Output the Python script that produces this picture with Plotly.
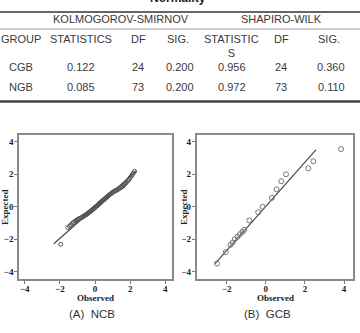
import plotly.graph_objects as go

W, H = 360, 333

# ---- table data ----
title_text = "Normality"
test_names = ["KOLMOGOROV-SMIRNOV", "SHAPIRO-WILK"]
col_headers = ["GROUP", "STATISTICS", "DF", "SIG.", "STATISTIC<br>S", "DF", "SIG."]
groups = ["CGB", "NGB"]
ks_stat = ["0.122", "0.085"]
ks_df = ["24", "73"]
ks_sig = ["0.200", "0.200"]
sw_stat = ["0.956", "0.972"]
sw_df = ["24", "73"]
sw_sig = ["0.360", "0.110"]

# ---- Q-Q plot data ----
obs_A = [-1.95, -1.55, -1.45, -1.38, -1.30, -1.22, -1.15, -1.08, -1.02, -0.95,
         -0.88, -0.82, -0.76, -0.70, -0.65, -0.60, -0.55, -0.50, -0.46, -0.42,
         -0.38, -0.34, -0.30, -0.26, -0.22, -0.18, -0.14, -0.10, -0.06, -0.02,
         0.02, 0.06, 0.10, 0.14, 0.18, 0.22, 0.26, 0.30, 0.34, 0.38,
         0.42, 0.46, 0.50, 0.55, 0.60, 0.65, 0.70, 0.75, 0.80, 0.86,
         0.92, 0.98, 1.04, 1.10, 1.16, 1.22, 1.28, 1.34, 1.40, 1.46,
         1.52, 1.58, 1.64, 1.70, 1.76, 1.82, 1.88, 1.94, 2.00, 2.06,
         2.12, 2.18, 2.25]
exp_A = [-2.31, -1.28, -1.20, -1.12, -1.02, -0.98, -0.90, -0.85, -0.80, -0.76,
         -0.72, -0.70, -0.66, -0.62, -0.58, -0.55, -0.51, -0.48, -0.45, -0.42,
         -0.38, -0.35, -0.31, -0.28, -0.24, -0.21, -0.17, -0.14, -0.10, -0.06,
         -0.02, 0.02, 0.05, 0.09, 0.13, 0.17, 0.21, 0.25, 0.29, 0.32,
         0.36, 0.40, 0.44, 0.48, 0.53, 0.58, 0.62, 0.67, 0.72, 0.77,
         0.82, 0.87, 0.91, 0.96, 0.99, 1.02, 1.05, 1.10, 1.14, 1.18,
         1.22, 1.27, 1.33, 1.40, 1.47, 1.55, 1.62, 1.70, 1.80, 1.88,
         1.98, 2.08, 2.18]
fit_x_A = [-2.35, 2.35]
fit_y_A = [-2.28, 2.20]

obs_B = [-2.50, -2.05, -1.81, -1.70, -1.59, -1.45, -1.33, -1.20, -1.11, -0.85,
         -0.39, -0.17, 0.31, 0.55, 0.79, 1.03, 2.17, 2.43, 3.85]
exp_B = [-3.50, -2.80, -2.35, -2.20, -2.00, -1.85, -1.69, -1.55, -1.42, -0.84,
         -0.34, 0.00, 0.55, 1.07, 1.57, 2.00, 2.37, 2.80, 3.55]
fit_x_B = [-2.60, 2.56]
fit_y_B = [-3.50, 3.50]

tick_vals = [-4, -2, 0, 2, 4]

def py(p):
    return 1 - p / H

def px(p):
    return p / W

fig = go.Figure()

mkA = dict(symbol="circle-open", size=4, color="#555", line=dict(width=1))
mkB = dict(symbol="circle-open", size=5, color="#777", line=dict(width=1))
fig.add_trace(go.Scatter(x=fit_x_A, y=fit_y_A, mode="lines",
                         line=dict(color="#4a4a4a", width=1.2),
                         xaxis="x", yaxis="y", showlegend=False))
fig.add_trace(go.Scatter(x=obs_A, y=exp_A, mode="markers", marker=mkA,
                         xaxis="x", yaxis="y", showlegend=False))
fig.add_trace(go.Scatter(x=fit_x_B, y=fit_y_B, mode="lines",
                         line=dict(color="#4a4a4a", width=1.2),
                         xaxis="x2", yaxis="y2", showlegend=False))
fig.add_trace(go.Scatter(x=obs_B, y=exp_B, mode="markers", marker=mkB,
                         xaxis="x2", yaxis="y2", showlegend=False))

tickfont = dict(family="Liberation Serif", size=9, color="#222", weight="bold")
axis_common = dict(showgrid=False, zeroline=False, showline=True, mirror=True,
                   linecolor="#8a8a8a", linewidth=1.5, ticks="outside",
                   ticklen=3, tickcolor="#777", tickfont=tickfont,
                   tickvals=tick_vals, fixedrange=True)

ydom = [py(279), py(134.5)]
fig.update_layout(
    width=W, height=H, margin=dict(l=0, r=0, t=0, b=0),
    paper_bgcolor="white", plot_bgcolor="white",
    xaxis=dict(domain=[px(19), px(172)], range=[-4.33, 4.38], anchor="y",
               ticklabelstandoff=-3, **axis_common),
    yaxis=dict(domain=ydom, range=[-4.45, 4.45], anchor="x",
               ticklabelstandoff=-1, **axis_common),
    xaxis2=dict(domain=[px(196.5), px(353)], range=[-3.55, 4.46], anchor="y2",
                ticklabelstandoff=-3, **axis_common),
    yaxis2=dict(domain=ydom, range=[-4.45, 4.45], anchor="x2",
                ticklabelstandoff=-1, **axis_common),
)

tfont = dict(family="Liberation Sans", size=11, color="#3a3a3a")
ann = []

def txt(x, y, s, font=tfont, **kw):
    d = dict(x=px(x), y=py(y), xref="paper", yref="paper", text=s,
             showarrow=False, font=font, xanchor="center", yanchor="middle",
             borderpad=0)
    d.update(kw)
    ann.append(d)

# title (mostly cut off at top)
txt(178, -2, "<b>" + title_text + "</b>", font=dict(family="Liberation Sans", size=12, color="#222"))
# test names
txt(121, 19, test_names[0])
txt(281, 19, test_names[1])
# column headers
hx = [21, 81, 138, 178, 231, 281, 329]
for x, h in zip(hx, col_headers):
    if "<br>" in h:
        txt(x, 32, h, yanchor="top")
    else:
        txt(x, 39, h)
# rows
vx = [21, 81, 138, 180, 232, 281, 331]
row_y = [67, 87]
for i, ry in enumerate(row_y):
    vals = [groups[i], ks_stat[i], ks_df[i], ks_sig[i], sw_stat[i], sw_df[i], sw_sig[i]]
    for x, v in zip(vx, vals):
        txt(x, ry, v)

# axis titles
afont = dict(family="Liberation Serif", size=9, color="#222")
txt(95, 298, "<b>Observed</b>", font=afont)
txt(275, 298, "<b>Observed</b>", font=afont)
txt(5, 207, "<b>Expected</b>", font=afont, textangle=-90)
txt(184, 207, "<b>Expected</b>", font=afont, textangle=-90)

# captions
cfont = dict(family="Liberation Sans", size=11.5, color="#333")
txt(92, 314, "(A)  NCB", font=cfont)
txt(267, 314, "(B)  GCB", font=cfont)

fig.update_layout(annotations=ann)

shapes = [
    dict(type="line", xref="paper", yref="paper", x0=0, x1=1, y0=py(12), y1=py(12),
         line=dict(color="#333", width=1.5)),
    dict(type="line", xref="paper", yref="paper", x0=0, x1=1, y0=py(29), y1=py(29),
         line=dict(color="#999", width=1)),
    dict(type="line", xref="paper", yref="paper", x0=0, x1=1, y0=py(101.5), y1=py(101.5),
         line=dict(color="#444", width=2.5)),
]
fig.update_layout(shapes=shapes)

fig.write_html("out.html")
